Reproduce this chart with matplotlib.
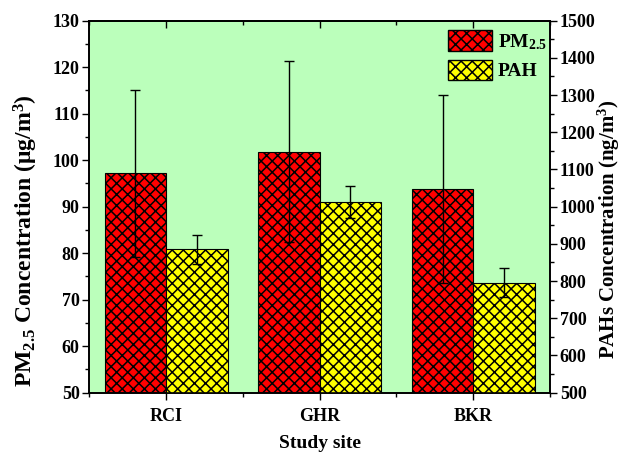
import numpy as np
import matplotlib
matplotlib.use("Agg")
import matplotlib.pyplot as plt
from matplotlib.patches import Patch
from matplotlib.ticker import MultipleLocator

plt.rcParams["font.family"] = ["Liberation Serif", "DejaVu Serif"]
plt.rcParams["font.weight"] = "bold"
plt.rcParams["axes.labelweight"] = "bold"
plt.rcParams["mathtext.fontset"] = "custom"
plt.rcParams["mathtext.rm"] = "Liberation Serif:bold"
plt.rcParams["mathtext.it"] = "Liberation Serif:bold"
plt.rcParams["mathtext.bf"] = "Liberation Serif:bold"
plt.rcParams["hatch.linewidth"] = 1.1
plt.rcParams["hatch.color"] = "black"

# -------------------------------------------------------
# Data
# -------------------------------------------------------
sites = ["RCI", "GHR", "BKR"]
pm25 = [97.2, 101.8, 93.8]
pm25_err = [18.0, 19.5, 20.3]
pah = [885, 1012, 796]
pah_err = [39, 43, 38]

x = np.arange(1, len(sites) + 1)
w = 0.4

# -------------------------------------------------------
# Figure
# -------------------------------------------------------
fig = plt.figure(figsize=(6.25, 4.55), dpi=100)
ax = fig.add_axes([0.1429, 0.137, 0.7371, 0.8175])
ax.set_facecolor("#BBFFBB")

ax.bar(x - w / 2, pm25, width=w, color="#FF0000", edgecolor="black",
       linewidth=0.8, hatch="xxx", zorder=2)
ax.errorbar(x - w / 2, pm25, yerr=pm25_err, fmt="none", ecolor="black",
            elinewidth=1, capsize=3.5, capthick=1, zorder=3)

ax2 = ax.twinx()
ax2.bar(x + w / 2, pah, width=w, color="#FFFF00", edgecolor="black",
        linewidth=0.8, hatch="xxx", zorder=2)
ax2.errorbar(x + w / 2, pah, yerr=pah_err, fmt="none", ecolor="black",
             elinewidth=1, capsize=3.5, capthick=1, zorder=3)

ax.set_xlim(0.5, 3.5)
ax.set_ylim(50, 130)
ax2.set_ylim(500, 1500)

ax.set_xticks(x)
ax.set_xticklabels(sites)
ax.xaxis.set_minor_locator(MultipleLocator(0.5))
ax.yaxis.set_major_locator(MultipleLocator(10))
ax.yaxis.set_minor_locator(MultipleLocator(5))
ax2.yaxis.set_major_locator(MultipleLocator(100))
ax2.yaxis.set_minor_locator(MultipleLocator(50))

ax.tick_params(axis="x", which="both", direction="out", top=False,
               labelsize=13, pad=6)
ax.tick_params(axis="x", which="major", length=5, width=1)
ax.tick_params(axis="x", which="minor", length=3, width=1)
ax.tick_params(axis="y", which="major", direction="out", length=5, width=1,
               labelsize=13, pad=2)
ax.tick_params(axis="y", which="minor", direction="out", length=3, width=1)
ax2.tick_params(axis="y", which="major", direction="out", length=5, width=1,
                labelsize=13, pad=2)
ax2.tick_params(axis="y", which="minor", direction="out", length=3, width=1)

# top ticks point inward
secx = ax.secondary_xaxis("top")
secx.set_xticks(x)
secx.xaxis.set_minor_locator(MultipleLocator(0.5))
secx.tick_params(axis="x", which="both", direction="in", labeltop=False)
secx.tick_params(axis="x", which="major", length=5, width=1)
secx.tick_params(axis="x", which="minor", length=3, width=1)
secx.spines["top"].set_linewidth(1.2)

for a in (ax, ax2):
    for s in a.spines.values():
        s.set_linewidth(1.2)

ax.set_xlabel("Study site", fontsize=14, labelpad=7)
ax.set_ylabel(r"PM$_{\mathrm{2.5}}$ Concentration (μg/m$^{\mathrm{3}}$)",
              fontsize=17)
ax.yaxis.set_label_coords(-0.108, 0.41)
ax2.set_ylabel(r"PAHs Concentration (ng/m$^{\mathrm{3}}$)", fontsize=15)
ax2.yaxis.set_label_coords(1.10, 0.44)

handles = [
    Patch(facecolor="#FF0000", edgecolor="black", hatch="xxx",
          label=r"PM$_{\mathrm{2.5}}$"),
    Patch(facecolor="#FFFF00", edgecolor="black", hatch="xxx", label="PAH"),
]
ax2.legend(handles=handles, loc="upper right", bbox_to_anchor=(1.01, 0.995),
           frameon=False, fontsize=14, handlelength=2.27, handleheight=1.25,
           labelspacing=0.4, handletextpad=0.3, borderaxespad=0.0)

fig.savefig("out.png", dpi=100)
